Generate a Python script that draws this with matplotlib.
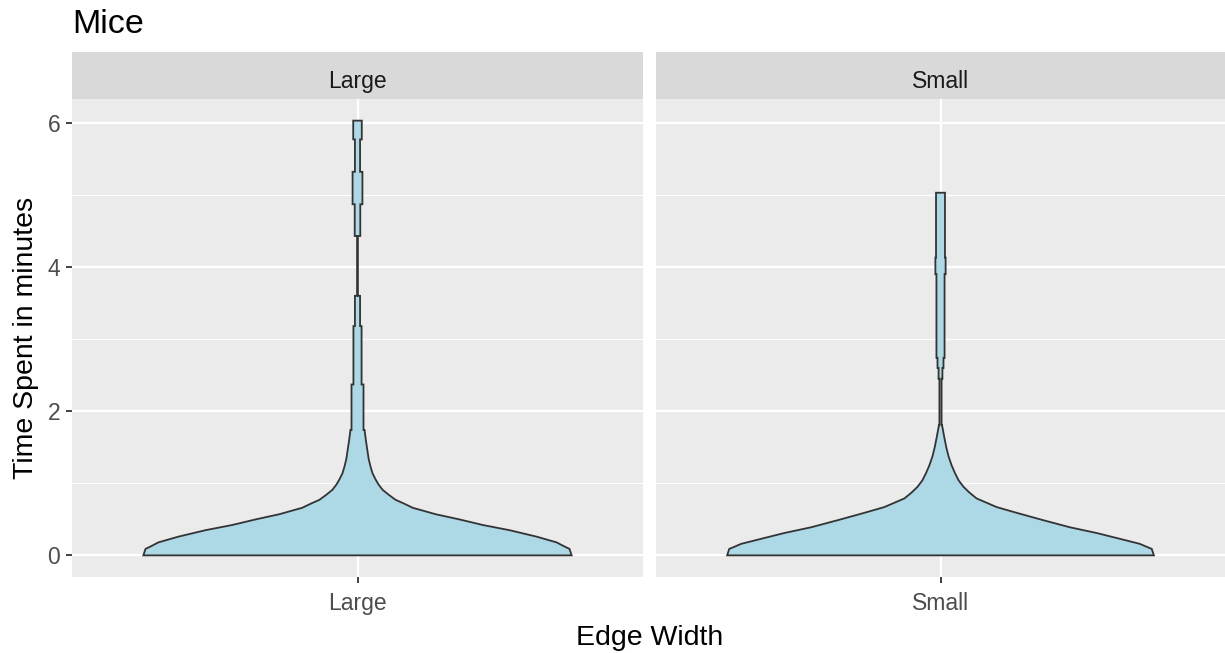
import matplotlib.pyplot as plt
import numpy as np

plt.rcParams['font.family'] = ['Liberation Sans', 'DejaVu Sans']

# violin profiles: y (minutes) and relative half width (1 = widest)
groups = ["Large", "Small"]

large_y = [0.00, 0.09, 0.13, 0.18, 0.26, 0.35, 0.42, 0.50, 0.57, 0.66, 0.72, 0.77, 0.84, 0.91,
           0.98, 1.05, 1.14, 1.23, 1.34, 1.46, 1.60, 1.74]
large_w = [1.00, 0.99, 0.962, 0.93, 0.836, 0.709, 0.587, 0.474, 0.366, 0.258, 0.216, 0.178, 0.146, 0.117,
           0.099, 0.085, 0.070, 0.061, 0.052, 0.046, 0.039, 0.033]
# stepped upper tail: segment edges and width inside each segment
large_step_y = [1.74, 2.37, 3.18, 3.60, 4.43, 4.87, 5.32, 5.77, 6.03]
large_step_w = [0.028, 0.019, 0.012, 0.002, 0.013, 0.023, 0.012, 0.020]

small_y = [0.00, 0.09, 0.12, 0.16, 0.23, 0.31, 0.39, 0.49, 0.59, 0.67, 0.73, 0.79, 0.87, 0.95,
           1.04, 1.14, 1.25, 1.37, 1.50, 1.65, 1.81]
small_w = [1.00, 0.99, 0.965, 0.934, 0.84, 0.732, 0.606, 0.479, 0.357, 0.263, 0.216, 0.169, 0.136, 0.108,
           0.085, 0.068, 0.052, 0.038, 0.027, 0.017, 0.007]
small_step_y = [1.81, 2.45, 2.60, 2.74, 3.90, 4.13, 5.03]
small_step_w = [0.005, 0.009, 0.014, 0.019, 0.024, 0.021]

profiles = {
    "Large": (large_y, large_w, large_step_y, large_step_w),
    "Small": (small_y, small_w, small_step_y, small_step_w),
}

yticks = [0, 2, 4, 6]
ymin, ymax = -0.30, 6.33

W, H = 1225, 653
fig = plt.figure(figsize=(W / 100, H / 100), dpi=100)
fig.patch.set_facecolor('white')

panels = [(72, 643), (656, 1225)]
top, bottom, strip_top = 99, 577, 52

def profile(y, w, sy, sw):
    ys = list(y)
    ws = list(w)
    for i in range(len(sw)):
        ys += [sy[i], sy[i + 1]]
        ws += [sw[i], sw[i]]
    return np.array(ys), np.array(ws)

for k, (g, (x0, x1)) in enumerate(zip(groups, panels)):
    ax = fig.add_axes([x0 / W, 1 - bottom / H, (x1 - x0) / W, (bottom - top) / H])
    ax.set_facecolor('#EBEBEB')
    for s in ax.spines.values():
        s.set_visible(False)
    ax.set_xlim(0.4, 1.6)
    ax.set_ylim(ymin, ymax)
    ax.set_yticks(yticks)
    ax.set_yticks([1, 3, 5], minor=True)
    ax.set_xticks([1])
    ax.set_xticklabels([g])
    ax.grid(which='major', color='white', lw=1.7)
    ax.grid(which='minor', axis='y', color='white', lw=0.85)
    ax.set_axisbelow(True)
    ax.tick_params(axis='both', which='major', colors='#333333', length=4.5, width=1.3,
                   labelcolor='#4D4D4D', labelsize=16.5, pad=4)
    ax.tick_params(axis='x', which='major', pad=6)
    ax.tick_params(axis='y', which='minor', length=0)
    if k == 1:
        ax.tick_params(axis='y', which='major', length=0, labelleft=False)

    y, w = profile(*profiles[g])
    hw = 0.45 * w
    xs = np.concatenate([1 - hw, (1 + hw)[::-1]])
    ys = np.concatenate([y, y[::-1]])
    ax.fill(xs, ys, facecolor='#ADD8E6', edgecolor='#333333', lw=1.3, joinstyle='miter')

    sax = fig.add_axes([x0 / W, 1 - top / H, (x1 - x0) / W, (top - strip_top) / H])
    sax.set_facecolor('#D9D9D9')
    sax.set_xticks([])
    sax.set_yticks([])
    for s in sax.spines.values():
        s.set_visible(False)
    sax.text(0.5, 1 - (88 - strip_top) / (top - strip_top), g, ha='center', va='baseline',
             fontsize=16.5, color='#1A1A1A', transform=sax.transAxes)

fig.text(72 / W, 1 - 33 / H, "Mice", ha='left', va='baseline', fontsize=24.5, color='black')
fig.text(650 / W, 1 - 645 / H, "Edge Width", ha='center', va='baseline', fontsize=20.5, color='black')
fig.text(26 / W, 1 - ((top + bottom) / 2) / H, "Time Spent in minutes", ha='center', va='center',
         rotation=90, fontsize=20.5, color='black')

fig.savefig('out.png', dpi=100)
